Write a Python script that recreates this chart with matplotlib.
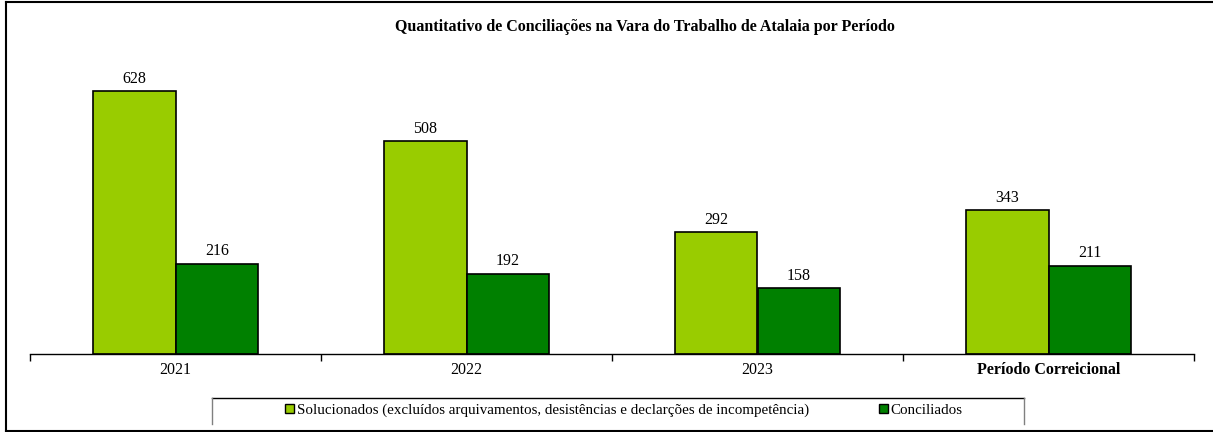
import matplotlib
matplotlib.use("Agg")
import matplotlib.pyplot as plt
import numpy as np
from matplotlib.patches import Patch
from matplotlib.lines import Line2D

# dados do grafico
periodos = ["2021", "2022", "2023", "Período Correicional"]
solucionados = [628, 508, 292, 343]
conciliados = [216, 192, 158, 211]
legenda = ["Solucionados (excluídos arquivamentos, desistências e declarções de incompetência)",
           "Conciliados"]
titulo = "Quantitativo de Conciliações na Vara do Trabalho de Atalaia por Período"

cor_claro = "#99CC00"
cor_escuro = "#008000"

plt.rcParams["font.family"] = ["Liberation Serif", "DejaVu Serif"]

W, H = 1213, 432
fig = plt.figure(figsize=(W / 100, H / 100), dpi=100)
ax = fig.add_axes([30 / W, (H - 354) / H, (1194 - 30) / W, (354 - 60) / H])

x = np.arange(len(periodos))
w = 0.285
b1 = ax.bar(x - w / 2, solucionados, w, color=cor_claro, edgecolor="black", linewidth=1.2)
b2 = ax.bar(x + w / 2, conciliados, w, color=cor_escuro, edgecolor="black", linewidth=1.2)
ax.bar_label(b1, padding=3, fontsize=11.5)
ax.bar_label(b2, padding=3, fontsize=11.5)

ax.set_xlim(-0.5, len(periodos) - 0.5)
ax.set_ylim(0, 702)
ax.set_yticks([])
ax.set_xticks(x)
ax.set_xticklabels(periodos, fontsize=11.5)
ax.get_xticklabels()[-1].set_fontweight("bold")
ax.tick_params(axis="x", which="major", length=0, pad=6)
ax.set_xticks(np.arange(-0.5, len(periodos)), minor=True)
ax.tick_params(axis="x", which="minor", length=5, width=1, direction="out")
for s in ["left", "right", "top"]:
    ax.spines[s].set_visible(False)
ax.spines["bottom"].set_linewidth(1)

fig.text(645 / W, (H - 27) / H, titulo, ha="center", va="center", fontsize=11.5, fontweight="bold")

# moldura externa
fig.add_artist(Line2D([6 / W, 6 / W], [0, 1 - 2 / H], color="black", lw=1.5))
fig.add_artist(Line2D([6 / W, 1], [1 - 2 / H, 1 - 2 / H], color="black", lw=1.5))
fig.add_artist(Line2D([6 / W, 1], [1 / H, 1 / H], color="black", lw=1.5))

# caixa da legenda (sem linha inferior)
yl_top = 1 - 398 / H
yl_bot = 1 - 424 / H
fig.add_artist(Line2D([212 / W, 1024 / W], [yl_top, yl_top], color="black", lw=1))
fig.add_artist(Line2D([212 / W, 212 / W], [yl_bot, yl_top], color="gray", lw=1))
fig.add_artist(Line2D([1024 / W, 1024 / W], [yl_bot, yl_top], color="gray", lw=1))

handles = [Patch(facecolor=cor_claro, edgecolor="black"), Patch(facecolor=cor_escuro, edgecolor="black")]
fig.legend(handles, legenda, loc="center", bbox_to_anchor=(624 / W, 1 - 410 / H), ncol=2,
           frameon=False, fontsize=10.8, handlelength=0.6, handleheight=0.6,
           handletextpad=0.2, columnspacing=4.6, borderaxespad=0, borderpad=0)

fig.savefig("out.png", dpi=100)
